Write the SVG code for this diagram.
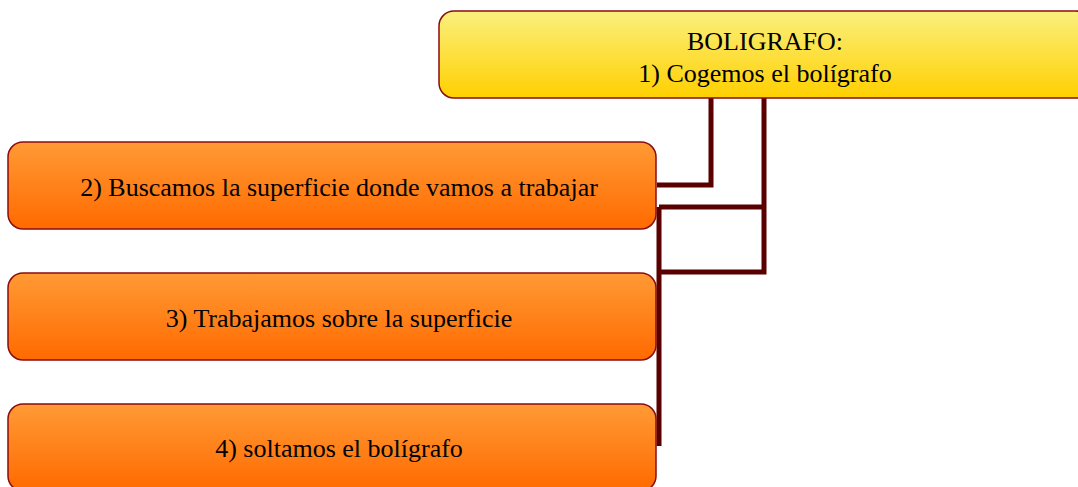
<svg xmlns="http://www.w3.org/2000/svg" width="1078" height="487" viewBox="0 0 1078 487">
<defs>
<linearGradient id="gy" x1="0" y1="0" x2="0" y2="1"><stop offset="0" stop-color="#fbf07e"/><stop offset="1" stop-color="#ffd000"/></linearGradient>
<linearGradient id="go" x1="0" y1="0" x2="0" y2="1"><stop offset="0" stop-color="#ff9a35"/><stop offset="1" stop-color="#ff6a00"/></linearGradient>
</defs>
<style>
.box{stroke:#8b0d0d;stroke-width:1.5}
.y{fill:url(#gy)}
.o{fill:url(#go)}
.t{font-family:"Liberation Serif","Times New Roman",serif;font-size:26px;fill:#000;text-anchor:middle}
.c{fill:none;stroke:#5a0000;stroke-width:5}
</style>
<g id="connectors">
<path class="c" d="M711,98 V185 H657"/>
<path class="c" d="M764,98 V272 H659 M659,207 H764 M659,207 V446"/>
</g>
<g id="n1">
<rect class="box y" x="439" y="11" width="652" height="87" rx="15"/>
<text class="t" x="765" y="50">BOLIGRAFO:</text>
<text class="t" x="765" y="82">1) Cogemos el bolígrafo</text>
</g>
<g id="n2">
<rect class="box o" x="8" y="142" width="648" height="87" rx="15"/>
<text class="t" x="339" y="196">2) Buscamos la superficie donde vamos a trabajar</text>
</g>
<g id="n3">
<rect class="box o" x="8" y="273" width="648" height="87" rx="15"/>
<text class="t" x="339" y="327">3) Trabajamos sobre la superficie</text>
</g>
<g id="n4">
<rect class="box o" x="8" y="404" width="648" height="87" rx="15"/>
<text class="t" x="339" y="457">4) soltamos el bolígrafo</text>
</g>
</svg>
